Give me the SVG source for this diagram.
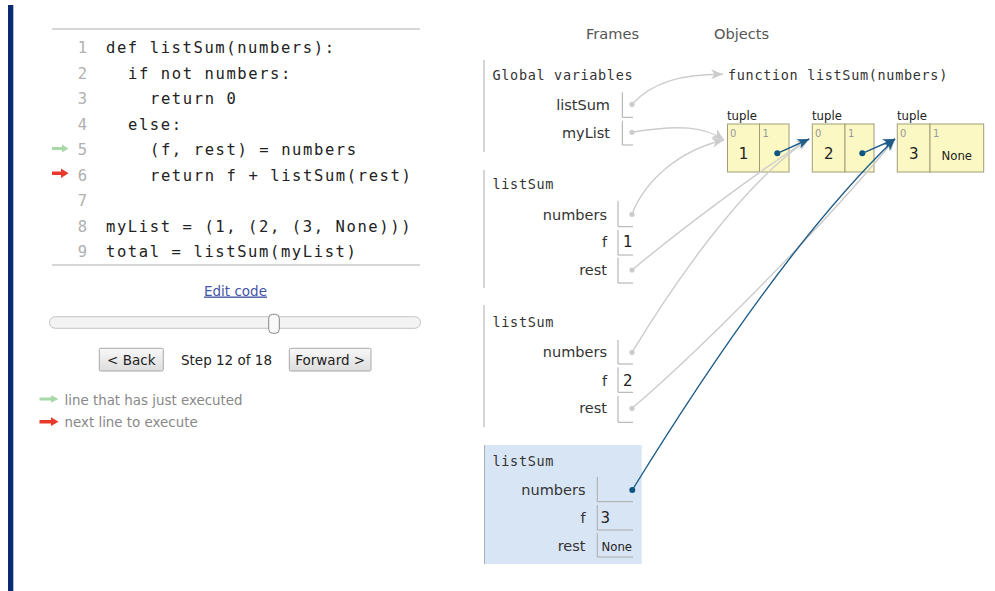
<svg xmlns="http://www.w3.org/2000/svg" width="995" height="591" viewBox="0 0 995 591">
<style>
.code{font-family:"DejaVu Sans Mono","Liberation Mono",monospace;font-size:15.5px;fill:#222;letter-spacing:1.6px}
.ln{font-family:"DejaVu Sans Mono","Liberation Mono",monospace;font-size:15.5px;fill:#b0b0b0;text-anchor:end}
.mono{font-family:"DejaVu Sans Mono","Liberation Mono",monospace;font-size:13.5px;fill:#333;letter-spacing:0.67px}
.sans{font-family:"DejaVu Sans","Liberation Sans",sans-serif;fill:#222}
.hdr{font-family:"DejaVu Sans","Liberation Sans",sans-serif;font-size:14.6px;fill:#555}
.lbl{font-family:"DejaVu Sans","Liberation Sans",sans-serif;font-size:14.5px;fill:#333;text-anchor:end}
.val{font-family:"DejaVu Sans","Liberation Sans",sans-serif;font-size:15px;fill:#222}
.small{font-family:"DejaVu Sans","Liberation Sans",sans-serif;font-size:11.7px;fill:#222}
.idx{font-family:"DejaVu Sans","Liberation Sans",sans-serif;font-size:10px;fill:#999}
.frameline{stroke:#aaa;stroke-width:1;fill:none}
.box{stroke:#aaa;stroke-width:1;fill:none}
.tcell{fill:#fbf8c4;stroke:#a09c78;stroke-width:1}
.gline{fill:none;stroke:#cccccc;stroke-width:1.4;marker-end:url(#ga)}
.bline{fill:none;stroke:#1e5c88;stroke-width:1.4;marker-end:url(#ba)}
.gdot{fill:#cccccc}
.bdot{fill:#0d5580}
.btn{fill:url(#bg);stroke:#a8a8a8;stroke-width:1}
.legend{font-family:"DejaVu Sans","Liberation Sans",sans-serif;font-size:13.4px;fill:#888}
</style>
<defs>
<marker id="ga" markerUnits="userSpaceOnUse" markerWidth="13" markerHeight="12" refX="12" refY="5" orient="auto" viewBox="0 0 13 10">
<path d="M0,0 L12,5 L0,10 L3.5,5 z" fill="#cccccc"/>
</marker>
<marker id="ba" markerUnits="userSpaceOnUse" markerWidth="13" markerHeight="12" refX="12" refY="5" orient="auto" viewBox="0 0 13 10">
<path d="M0,0 L12,5 L0,10 L3.5,5 z" fill="#1e5c88"/>
</marker>
<linearGradient id="bg" x1="0" y1="0" x2="0" y2="1">
<stop offset="0" stop-color="#f8f8f8"/>
<stop offset="1" stop-color="#dddddd"/>
</linearGradient>
</defs>
<rect x="0" y="0" width="995" height="591" fill="#ffffff"/>
<rect x="8" y="5" width="5.3" height="586" fill="#0b2a74"/>

<g id="code-panel">
<line x1="52" y1="29" x2="420" y2="29" stroke="#c8c8c8" stroke-width="1.5"/>
<line x1="52" y1="265" x2="420" y2="265" stroke="#c8c8c8" stroke-width="1.5"/>
<text class="ln" x="87" y="53">1</text>
<text class="ln" x="87" y="78.5">2</text>
<text class="ln" x="87" y="104">3</text>
<text class="ln" x="87" y="129.5">4</text>
<text class="ln" x="87" y="155">5</text>
<text class="ln" x="87" y="180.5">6</text>
<text class="ln" x="87" y="206">7</text>
<text class="ln" x="87" y="231.5">8</text>
<text class="ln" x="87" y="257">9</text>
<text class="code" x="106" y="53">def listSum(numbers):</text>
<text class="code" x="128" y="78.5">if not numbers:</text>
<text class="code" x="150" y="104">return 0</text>
<text class="code" x="128" y="129.5">else:</text>
<text class="code" x="150" y="155">(f, rest) = numbers</text>
<text class="code" x="150" y="180.5">return f + listSum(rest)</text>
<text class="code" x="106" y="231.5">myList = (1, (2, (3, None)))</text>
<text class="code" x="106" y="257">total = listSum(myList)</text>
<polygon points="52,147 62,147 62,144.5 68.5,148.5 62,152.5 62,150 52,150" fill="#a8d8a8"/>
<polygon points="52,171.5 61,171.5 61,168.5 68.5,173.3 61,178 61,175 52,175" fill="#e8392b"/>
</g>

<g id="controls">
<text class="sans" x="235.5" y="295.5" font-size="13.5" text-anchor="middle" text-decoration="underline" style="fill:#4455a6">Edit code</text>
<rect x="49.5" y="316.7" width="371" height="11.6" rx="5.8" fill="#f3f3f3" stroke="#c4c4c4"/>
<rect x="268.7" y="314.3" width="10.6" height="19" rx="4" fill="#fafafa" stroke="#888"/>
<rect class="btn" x="99.3" y="348.3" width="64" height="22.7" rx="1.5"/>
<text class="sans" x="131.3" y="365" font-size="13.5" text-anchor="middle">&lt; Back</text>
<text class="sans" x="226.5" y="365" font-size="13.5" text-anchor="middle">Step 12 of 18</text>
<rect class="btn" x="289.3" y="348.3" width="81.7" height="22.7" rx="1.5"/>
<text class="sans" x="330.2" y="365" font-size="13.5" text-anchor="middle">Forward &gt;</text>
<polygon points="39.5,397.6 51,397.6 51,395.3 58.5,399 51,402.7 51,400.4 39.5,400.4" fill="#a8d8a8"/>
<text class="legend" x="64.5" y="404.5">line that has just executed</text>
<polygon points="39.5,420 51,420 51,417.3 58.5,421.7 51,426.1 51,423.4 39.5,423.4" fill="#e8392b"/>
<text class="legend" x="64.5" y="427">next line to execute</text>
</g>

<text class="hdr" x="586" y="39">Frames</text>
<text class="hdr" x="714" y="39">Objects</text>

<g id="frame-global">
<line class="frameline" x1="484" y1="60" x2="484" y2="152"/>
<text class="mono" x="492.5" y="80">Global variables</text>
<text class="lbl" x="610" y="110.3">listSum</text>
<path class="box" d="M622.3,92.3 V117.3 H633"/>
<circle class="gdot" cx="632" cy="104.3" r="2.6"/>
<text class="lbl" x="610" y="138">myList</text>
<path class="box" d="M622.3,120.7 V145 H633"/>
<circle class="gdot" cx="632" cy="132.3" r="2.6"/>
</g>

<g id="frame-listSum-1">
<line class="frameline" x1="484" y1="170" x2="484" y2="288"/>
<text class="mono" x="492.5" y="189.3">listSum</text>
<text class="lbl" x="607" y="220">numbers</text>
<path class="box" d="M618,200.7 V226.7 H633"/>
<circle class="gdot" cx="632" cy="214.3" r="2.6"/>
<text class="lbl" x="607" y="247.3">f</text>
<path class="box" d="M618,230 V255 H633"/>
<text class="val" x="623" y="247.3">1</text>
<text class="lbl" x="607" y="275">rest</text>
<path class="box" d="M618,257.5 V283 H633"/>
<circle class="gdot" cx="632" cy="270" r="2.6"/>
</g>

<g id="frame-listSum-2">
<line class="frameline" x1="484" y1="305" x2="484" y2="427"/>
<text class="mono" x="492.5" y="327.3">listSum</text>
<text class="lbl" x="607" y="357.3">numbers</text>
<path class="box" d="M618,340 V364 H633"/>
<circle class="gdot" cx="632" cy="352.3" r="2.6"/>
<text class="lbl" x="607" y="386">f</text>
<path class="box" d="M618,367.3 V392.3 H633"/>
<text class="val" x="623" y="386">2</text>
<text class="lbl" x="607" y="413.3">rest</text>
<path class="box" d="M618,395.7 V422.3 H633"/>
<circle class="gdot" cx="632" cy="408.3" r="2.6"/>
</g>

<g id="frame-listSum-3">
<rect x="484" y="445" width="157.7" height="119" fill="#d8e5f5"/>
<line x1="484.5" y1="445" x2="484.5" y2="564" stroke="#a8b0bc" stroke-width="1"/>
<text class="mono" x="492.5" y="465.7">listSum</text>
<text class="lbl" x="585.5" y="495">numbers</text>
<path class="box" d="M597.3,476.7 V501.7 H633"/>
<circle class="bdot" cx="632.3" cy="490" r="3"/>
<text class="lbl" x="585.5" y="522.5">f</text>
<path class="box" d="M597.3,505 V530 H633"/>
<text class="val" x="600.5" y="522.7">3</text>
<text class="lbl" x="585.5" y="550.7">rest</text>
<path class="box" d="M597.3,533 V557 H633"/>
<text class="small" x="601.5" y="550.7">None</text>
</g>

<g id="obj-function">
<text class="mono" x="728" y="80">function listSum(numbers)</text>
</g>

<g id="obj-tuple-1">
<text class="small" x="727" y="120">tuple</text>
<rect class="tcell" x="727.5" y="124" width="32" height="48"/>
<rect class="tcell" x="759.5" y="124" width="29.5" height="48"/>
<text class="idx" x="730" y="136.5">0</text>
<text class="idx" x="762.5" y="136.5">1</text>
<text class="val" x="743.5" y="159.3" text-anchor="middle">1</text>
<circle class="bdot" cx="777.3" cy="153.3" r="3"/>
</g>

<g id="obj-tuple-2">
<text class="small" x="812" y="120">tuple</text>
<rect class="tcell" x="812.3" y="124" width="32.7" height="48"/>
<rect class="tcell" x="845" y="124" width="29" height="48"/>
<text class="idx" x="815" y="136.5">0</text>
<text class="idx" x="848" y="136.5">1</text>
<text class="val" x="828.7" y="159.3" text-anchor="middle">2</text>
<circle class="bdot" cx="862.3" cy="153.3" r="3"/>
</g>

<g id="obj-tuple-3">
<text class="small" x="897" y="120">tuple</text>
<rect class="tcell" x="897.3" y="124" width="32.7" height="48"/>
<rect class="tcell" x="930" y="124" width="53.7" height="48"/>
<text class="idx" x="900" y="136.5">0</text>
<text class="idx" x="933" y="136.5">1</text>
<text class="val" x="913.7" y="159.3" text-anchor="middle">3</text>
<text class="small" x="956.8" y="160" text-anchor="middle">None</text>
</g>

<g id="connectors">
<path class="gline" d="M632,104.3 C652,82 682,74 723,74.3"/>
<path class="gline" d="M632,132.3 C680,124 705,127 724,140"/>
<path class="gline" d="M632,214.3 C645,180 680,150 724,140"/>
<path class="gline" d="M632,270 C680,230 760,170 809,139"/>
<path class="gline" d="M632,352.3 C670,290 740,185 809,139"/>
<path class="gline" d="M632,408.3 C700,350 820,230 895,139"/>
<path class="bline" d="M632.3,490 C700,380 800,230 895,139"/>
<path class="bline" d="M777.3,153.3 L809.3,139"/>
<path class="bline" d="M862.3,153.3 L895,139"/>
</g>
</svg>
